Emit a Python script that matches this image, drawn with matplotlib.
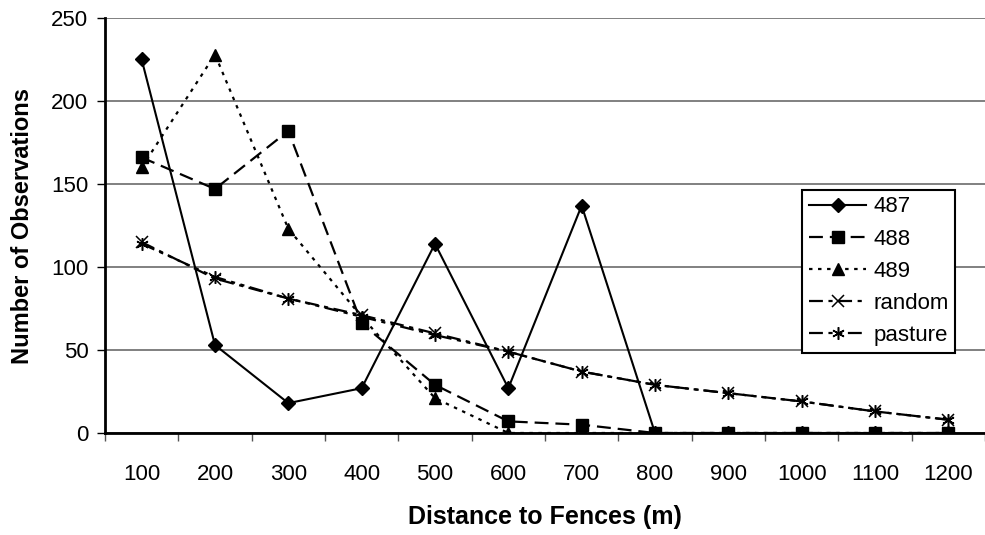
import numpy as np
import matplotlib
matplotlib.use('Agg')
import matplotlib.pyplot as plt

# === Data ===
distances = ['100', '200', '300', '400', '500', '600',
             '700', '800', '900', '1000', '1100', '1200']
obs_487 = [225, 53, 18, 27, 114, 27, 137, 0, 0, 0, 0, 0]
obs_488 = [166, 147, 182, 66, 29, 7, 5, 0, 0, 0, 0, 0]
obs_489 = [160, 228, 123, 70, 21, 0, 0, 0, 0, 0, 0, 0]
obs_random = [115, 93, 81, 71, 60, 49, 37, 29, 24, 19, 13, 8]
obs_pasture = [114, 94, 81, 70, 59, 49, 37, 29, 24, 19, 13, 8]

plt.rcParams['font.family'] = ['Liberation Sans', 'DejaVu Sans']
plt.rcParams['lines.scale_dashes'] = False

x = np.arange(1, len(distances) + 1)

fig = plt.figure(figsize=(9.85, 5.35), dpi=100)
ax = fig.add_axes([105 / 985, 102 / 535, 880 / 985, 415 / 535])

ax.plot(x, obs_487, color='black', lw=1.5, ls='-',
        marker='D', ms=7, label='487')
ax.plot(x, obs_488, color='black', lw=1.6, ls=(0, (10, 5)),
        marker='s', ms=8, label='488')
ax.plot(x, obs_489, color='black', lw=1.6, ls=(0, (2.5, 4)),
        marker='^', ms=9, label='489')
ax.plot(x, obs_random, color='black', lw=1.6, ls=(0, (10, 4, 3, 4)),
        marker='x', ms=8, mew=1.1, label='random')
ax.plot(x, obs_pasture, color='black', lw=1.6, ls=(0, (10, 4, 3, 4, 3, 4)),
        marker=(6, 2, 0), ms=9, mew=1.1, label='pasture')

# === Axes ===
ax.set_xlim(0.5, len(distances) + 0.5)
ax.set_ylim(0, 250)
ax.set_yticks(np.arange(0, 251, 50))
ax.set_xticks(x)
ax.set_xticklabels(distances)
ax.set_xticks(np.arange(0.5, len(distances) + 1), minor=True)
ax.tick_params(axis='x', which='major', length=0, pad=22, labelsize=16)
ax.tick_params(axis='x', which='minor', length=6, width=1, color='#555555')
ax.tick_params(axis='y', length=6, width=1, labelsize=16, pad=6)

ax.yaxis.grid(True, color='#767676', lw=1.3)
ax.set_axisbelow(True)
for side in ('top', 'right'):
    ax.spines[side].set_visible(False)
for side in ('left', 'bottom'):
    ax.spines[side].set_linewidth(2)

ax.set_xlabel('Distance to Fences (m)', fontsize=18, fontweight='bold',
              labelpad=15)
ax.set_ylabel('Number of Observations', fontsize=17, fontweight='bold',
              labelpad=12)

leg = ax.legend(loc='upper left', bbox_to_anchor=(0.792, 0.586),
                borderaxespad=0, fontsize=16, handlelength=2.6,
                labelspacing=0.5, fancybox=False, framealpha=1,
                borderpad=0.3, handletextpad=0.3)
leg.get_frame().set_edgecolor('black')
leg.get_frame().set_linewidth(1.5)

fig.savefig('out.png', dpi=100)
